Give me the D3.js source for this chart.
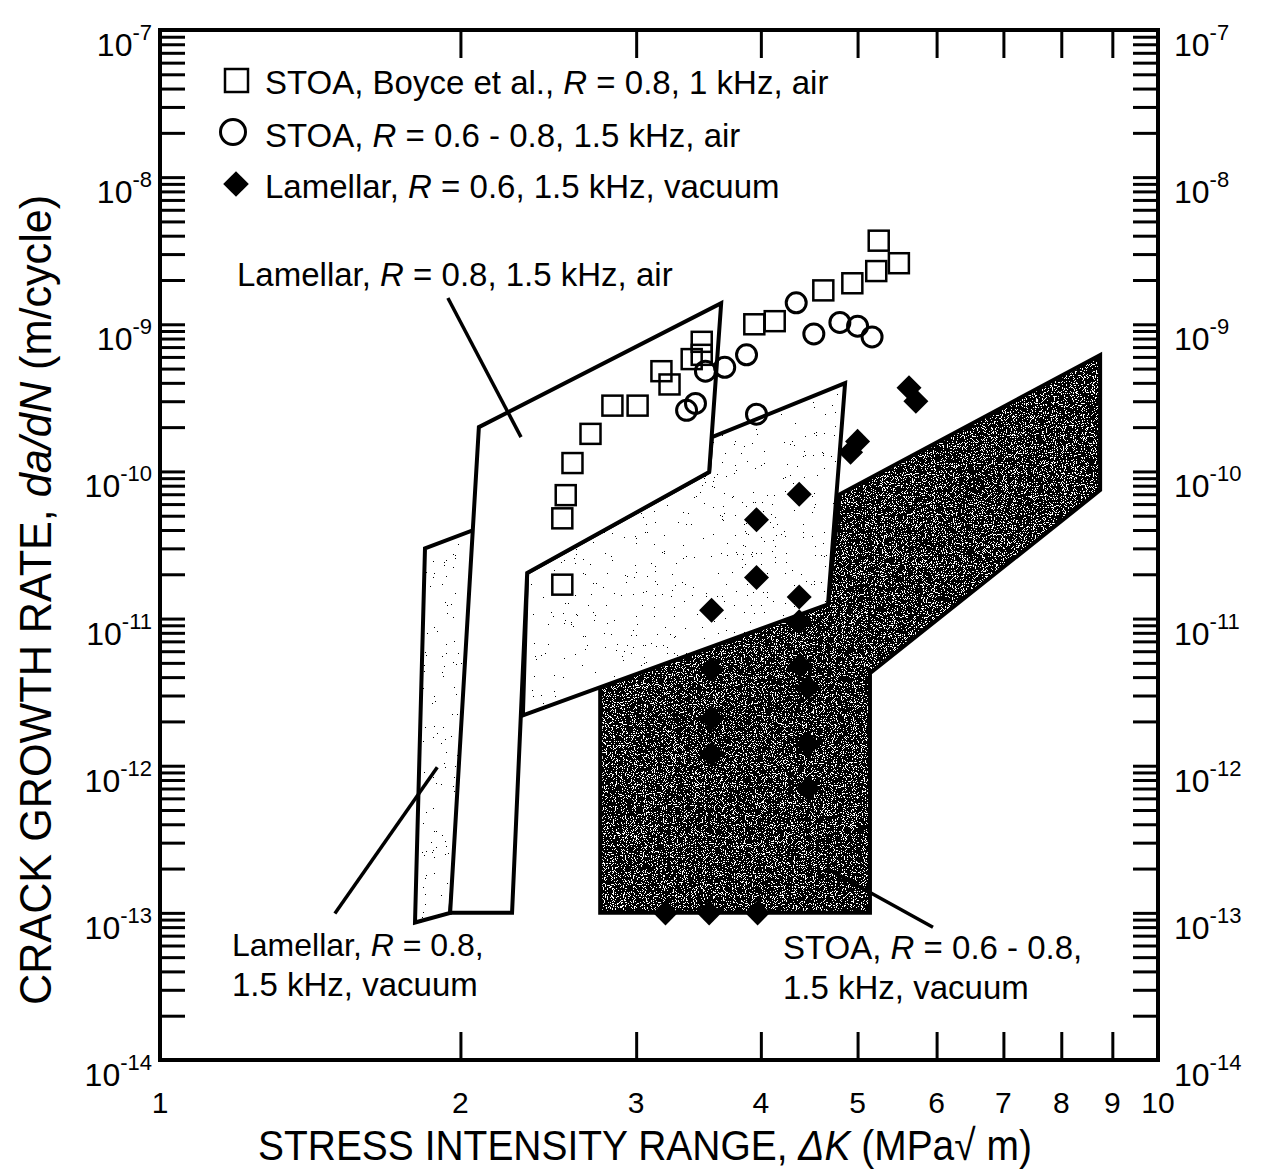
<!DOCTYPE html>
<html>
<head>
<meta charset="utf-8">
<script src="https://cdn.jsdelivr.net/npm/d3@7"></script>
<style>
  body { margin: 0; background: #fff; }
  svg { display: block; }
  text { font-family: "Liberation Sans Narrow", "Arial Narrow", "Liberation Sans", Arial, sans-serif; fill: #000; }
</style>
</head>
<body>
<script>
// ---- data ----
// STOA, Boyce et al., R = 0.8, 1 kHz, air  (open squares)
const boyceK    = [2.53, 2.53, 2.55, 2.59, 2.70, 2.84, 3.01, 3.18, 3.24, 3.41, 3.49, 3.49, 3.94, 4.13, 4.62, 4.94, 5.22, 5.25, 5.50]
const boyceRate = [1.7e-11, 4.8e-11, 6.9e-11, 1.14e-10, 1.8e-10, 2.8e-10, 2.8e-10, 4.8e-10, 3.9e-10, 5.8e-10, 7.6e-10, 6.2e-10, 1.0e-9, 1.05e-9, 1.7e-9, 1.9e-9, 2.3e-9, 3.7e-9, 2.6e-9]

// STOA, R = 0.6 - 0.8, 1.5 kHz, air  (open circles)
const stoaAirK    = [3.37, 3.44, 3.52, 3.68, 3.87, 3.96, 4.34, 4.52, 4.80, 5.00, 5.17]
const stoaAirRate = [2.6e-10, 2.9e-10, 4.8e-10, 5.1e-10, 6.2e-10, 2.45e-10, 1.4e-9, 8.6e-10, 1.03e-9, 9.7e-10, 8.2e-10]

// Lamellar, R = 0.6, 1.5 kHz, vacuum  (filled diamonds)
const lamVacK    = [5.63, 5.72, 5.00, 4.92, 4.37, 3.96, 3.96, 3.57, 4.37, 4.37, 3.57, 4.38, 4.46, 3.57, 3.57, 4.46, 4.46, 3.21, 3.55, 3.97]
const lamVacRate = [3.7e-10, 3.0e-10, 1.6e-10, 1.35e-10, 7.0e-11, 4.7e-11, 1.9e-11, 1.14e-11, 1.4e-11, 9.5e-12, 4.5e-12, 4.8e-12, 3.4e-12, 2.1e-12, 1.2e-12, 1.4e-12, 7.0e-13, 1e-13, 1e-13, 1e-13]

// scatter bands, vertices as [dK, da/dN]
const bandStoaVac = [[2.761, 3.41e-12], [2.761, 1e-13], [5.145, 1e-13], [5.145, 4.25e-12], [8.75, 7.46e-11], [8.75, 6.18e-10], [4.80, 7.0e-11], [4.67, 1.25e-11]]
const bandMid     = [[2.333, 2.04e-11], [3.55, 9.9e-11], [3.573, 1.71e-10], [4.858, 3.98e-10], [4.67, 1.25e-11], [2.31, 2.2e-12]]
const bandLamVac  = [[1.843, 3.0e-11], [2.117, 4.28e-11], [1.953, 1e-13], [1.801, 8.6e-14]]
const bandLamAir  = [[2.087, 2.0e-10], [3.65, 1.39e-9], [3.55, 9.9e-11], [2.333, 2.04e-11], [2.253, 1e-13], [1.953, 1e-13]]

// leader lines from labels to bands
const leaderLamAir  = [[1.943, 1.51e-9], [2.300, 1.71e-10]]
const leaderLamVac  = [[1.497, 9.9e-14], [1.896, 9.77e-13]]
const leaderStoaVac = [[4.65, 2.01e-13], [5.95, 7.98e-14]]

// axis ticks
const xTickLabels = [1, 2, 3, 4, 5, 6, 7, 8, 9, 10]
const xMinorTicks = [2, 3, 4, 5, 6, 7, 8, 9]
const yDecades    = [-7, -8, -9, -10, -11, -12, -13, -14]

// ---- chart ----
const width = 1277, height = 1171
const plotL = 160, plotR = 1158, plotT = 30, plotB = 1060

const svg = d3.select("body").append("svg")
    .attr("width", width)
    .attr("height", height)

const x = d3.scaleLog().domain([1, 10]).range([plotL, plotR])
const y = d3.scaleLog().domain([1e-14, 1e-7]).range([plotB, plotT])

const defs = svg.append("defs")

// speckled fills: thresholded noise used as a mask on a black shape
function speckle(id, freq, cut, seed) {
    const f = defs.append("filter").attr("id", id)
        .attr("x", 0).attr("y", 0).attr("width", 1).attr("height", 1)
        .attr("color-interpolation-filters", "sRGB")
    f.append("feTurbulence").attr("type", "fractalNoise")
        .attr("baseFrequency", freq).attr("numOctaves", 2).attr("seed", seed).attr("result", "noise")
    f.append("feColorMatrix").attr("in", "noise").attr("type", "matrix")
        .attr("values", "0 0 0 0 0  0 0 0 0 0  0 0 0 0 0  1 0 0 0 0").attr("result", "a")
    // step function: alpha 1 above the cut value
    const table = d3.range(100).map(i => (i / 100 >= cut ? 1 : 0)).join(" ")
    f.append("feComponentTransfer").attr("in", "a").attr("result", "dots")
        .append("feFuncA").attr("type", "discrete").attr("tableValues", table)
    f.append("feComposite").attr("in", "dots").attr("in2", "SourceGraphic").attr("operator", "in")
}
speckle("darkSpeck", 0.9, 0.40, 4)
speckle("lightSpeck", 0.9, 0.77, 7)

const poly = d3.line().x(d => x(d[0])).y(d => y(d[1]))

function band(pts, speck) {
    const d = poly(pts) + "Z"
    svg.append("path").attr("d", d).attr("fill", "#fff")
    if (speck) svg.append("path").attr("d", d).attr("fill", "#000").attr("filter", `url(#${speck})`)
    svg.append("path").attr("d", d).attr("fill", "none")
        .attr("stroke", "#000").attr("stroke-width", 4).attr("stroke-linejoin", "miter")
}
band(bandStoaVac, "darkSpeck")
band(bandMid, "lightSpeck")
band(bandLamVac, "lightSpeck")
band(bandLamAir, null)

;[leaderLamAir, leaderLamVac, leaderStoaVac].forEach(l => {
    svg.append("path").attr("d", poly(l))
        .attr("stroke", "#000").attr("stroke-width", 3.5).attr("fill", "none")
})

// axes: ticks pointing inward on all four sides
const yTicks = []
for (let e = -14; e < -7; e++) for (let m = 1; m <= 9; m++) if (!(e === -14 && m === 1)) yTicks.push(m * Math.pow(10, e))

function styleAxis(g) {
    g.select(".domain").remove()
    g.selectAll(".tick line").attr("stroke", "#000").attr("stroke-width", 3)
    g.selectAll(".tick text").remove()
}
svg.append("g").attr("transform", `translate(${plotL},0)`)
    .call(d3.axisRight(y).tickValues(yTicks).tickSize(25).tickFormat("")).call(styleAxis)
svg.append("g").attr("transform", `translate(${plotR},0)`)
    .call(d3.axisLeft(y).tickValues(yTicks).tickSize(25).tickFormat("")).call(styleAxis)
svg.append("g").attr("transform", `translate(0,${plotB})`)
    .call(d3.axisTop(x).tickValues(xMinorTicks).tickSize(28).tickFormat("")).call(styleAxis)
svg.append("g").attr("transform", `translate(0,${plotT})`)
    .call(d3.axisBottom(x).tickValues(xMinorTicks).tickSize(28).tickFormat("")).call(styleAxis)

svg.append("rect").attr("x", plotL).attr("y", plotT)
    .attr("width", plotR - plotL).attr("height", plotB - plotT)
    .attr("fill", "none").attr("stroke", "#000").attr("stroke-width", 4)

// tick labels
svg.append("g").selectAll("text").data(xTickLabels).enter().append("text")
    .attr("x", d => x(d)).attr("y", 1113)
    .attr("text-anchor", "middle").attr("font-size", 30)
    .text(d => d)

function decadeLabel(xPos, anchor, e) {
    const t = svg.append("text").attr("x", xPos).attr("y", y(Math.pow(10, e)) + 26)
        .attr("text-anchor", anchor).attr("font-size", 32)
    t.append("tspan").text("10")
    t.append("tspan").attr("dy", -16).attr("font-size", 22).text(e)
}
yDecades.forEach(e => {
    decadeLabel(152, "end", e)
    decadeLabel(1174, "start", e)
})

// rich text helper: parts = [[string, italic]]; sx squeezes the glyphs horizontally
function richText(px, py, size, parts, opts = {}) {
    const sx = opts.sx || 1, rot = opts.rotate || 0
    const t = svg.append("text").attr("font-size", size)
        .attr("transform", `translate(${px},${py}) rotate(${rot}) scale(${sx},1)`)
    parts.forEach(p => t.append("tspan").attr("font-style", p[1] ? "italic" : "normal").text(p[0]))
    return t
}

// legend
svg.append("rect").attr("x", 225).attr("y", 69).attr("width", 23).attr("height", 23)
    .attr("fill", "#fff").attr("stroke", "#000").attr("stroke-width", 2.5)
svg.append("circle").attr("cx", 233).attr("cy", 132).attr("r", 12.5)
    .attr("fill", "#fff").attr("stroke", "#000").attr("stroke-width", 3)
svg.append("path").attr("d", d3.symbol(d3.symbolDiamond2, 420)())
    .attr("transform", "translate(236,184)").attr("fill", "#000")

richText(265, 94, 33, [["STOA, Boyce et al., ", false], ["R", true], [" = 0.8, 1 kHz, air", false]])
richText(265, 147, 33, [["STOA, ", false], ["R", true], [" = 0.6 - 0.8, 1.5 kHz, air", false]])
richText(265, 198, 33, [["Lamellar, ", false], ["R", true], [" = 0.6, 1.5 kHz, vacuum", false]])

// band labels
richText(237, 286, 33, [["Lamellar, ", false], ["R", true], [" = 0.8, 1.5 kHz, air", false]])
richText(232, 956, 32, [["Lamellar, ", false], ["R", true], [" = 0.8,", false]])
richText(232, 996, 33, [["1.5 kHz, vacuum", false]])
richText(783, 959, 33, [["STOA, ", false], ["R", true], [" = 0.6 - 0.8,", false]])
richText(783, 999, 33, [["1.5 kHz, vacuum", false]])

// axis titles
richText(258, 1160, 43, [["STRESS INTENSITY RANGE, ", false], ["\u0394K", true], [" (MPa\u221A m)", false]], {sx: 0.906})
richText(51, 1005, 45, [["CRACK GROWTH RATE, ", false], ["da/dN", true], [" (m/cycle)", false]], {rotate: -90, sx: 0.96})

// data points
svg.append("g").selectAll("rect").data(boyceK.map((k, i) => [k, boyceRate[i]])).enter().append("rect")
    .attr("x", d => x(d[0]) - 10).attr("y", d => y(d[1]) - 10)
    .attr("width", 20).attr("height", 20)
    .attr("fill", "none").attr("stroke", "#000").attr("stroke-width", 2.5)

svg.append("g").selectAll("circle").data(stoaAirK.map((k, i) => [k, stoaAirRate[i]])).enter().append("circle")
    .attr("cx", d => x(d[0])).attr("cy", d => y(d[1])).attr("r", 10)
    .attr("fill", "none").attr("stroke", "#000").attr("stroke-width", 3)

svg.append("g").selectAll("path").data(lamVacK.map((k, i) => [k, lamVacRate[i]])).enter().append("path")
    .attr("d", d3.symbol(d3.symbolDiamond2, 400)())
    .attr("transform", d => `translate(${x(d[0])},${y(d[1])})`)
    .attr("fill", "#000")
</script>
</body>
</html>
